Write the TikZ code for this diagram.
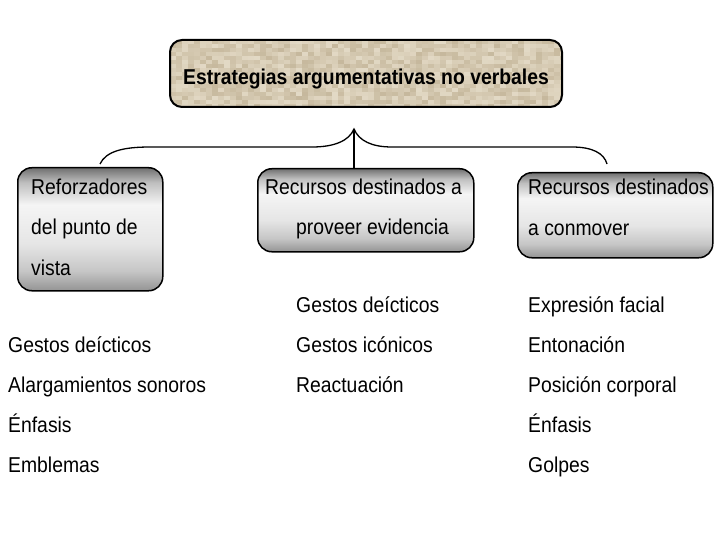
\documentclass[tikz,border=0pt]{standalone}
\usepackage{fontspec}
\setmainfont{Liberation Sans}[FakeStretch=0.9]
\usetikzlibrary{positioning, calc}
\definecolor{sanddark}{RGB}{172,154,120}
\definecolor{sandlight}{RGB}{236,228,210}
\definecolor{barshade}{RGB}{112,112,112}
\pgfdeclareverticalshading{barband}{100bp}{color(0bp)=(barshade!80!white); color(25bp)=(barshade!75!white);
  color(33bp)=(barshade!40!white); color(44bp)=(white!90!black); color(60bp)=(white!96!black);
  color(69bp)=(barshade!45!white); color(75bp)=(barshade); color(100bp)=(barshade)}
\tikzset{
  gradbox/.style={draw=black, line width=1.5pt, rounded corners=14pt, shading=barband, inner sep=0pt},
  itemtext/.style={anchor=base west, inner sep=0pt, font=\fontsize{21.5}{26}\selectfont},
}

\begin{document}
\begin{tikzpicture}[x=1pt, y=-1pt]
    \useasboundingbox (0,0) rectangle (720,540);
    % sand texture of the title box
    \begin{scope}
        \clip[rounded corners=12pt] (170,40) rectangle (562,107);
        \pgfmathsetseed{11}
        \foreach \i in {0,...,65} {
            \foreach \j in {0,...,16} {
                \pgfmathtruncatemacro{\m}{15+45*rnd}
                \fill[sanddark!\m!sandlight] (170+6*\i,40+4*\j) rectangle ++(6,4);
            }
        }
    \end{scope}
    \node[draw=black, line width=2pt, rounded corners=12pt, minimum width=392pt,
          minimum height=67pt, inner sep=0pt, text height=23pt, text depth=0pt,
          font=\bfseries\fontsize{21.5}{26}\selectfont] (titulo) at (366,73.5)
          {Estrategias argumentativas no verbales};

    % the three categories
    \node[gradbox, minimum width=145pt, minimum height=123pt, anchor=north west] (reforz) at (17,167) {};
    \node[gradbox, minimum width=216pt, minimum height=83pt, anchor=north west] (evid) at (257,168) {};
    \node[gradbox, minimum width=195pt, minimum height=85pt, anchor=north west] (conmov) at (517,172) {};

    \node[itemtext] (reforzA) at ([shift={(14,28)}]reforz.north west) {Reforzadores};
    \node[itemtext] (reforzB) at ([shift={(14,68)}]reforz.north west) {del punto de};
    \node[itemtext] (reforzC) at ([shift={(14,108)}]reforz.north west) {vista};
    \node[itemtext] (evidA) at ([shift={(8,27)}]evid.north west) {Recursos destinados a};
    \node[itemtext] (evidB) at ([shift={(39,67)}]evid.north west) {proveer evidencia};
    \node[itemtext] (conmovA) at ([shift={(11,23)}]conmov.north west) {Recursos destinados};
    \node[itemtext] (conmovB) at ([shift={(11,64)}]conmov.north west) {a conmover};

    % brace
    \coordinate (apex) at (354,129);
    \draw[line width=1.3pt] (100,164) .. controls (106,151) and (124,147) .. (150,147) -- (312,147)
        .. controls (334,147) and (349,141) .. (apex)
        .. controls (359,141) and (372,147) .. (392,147) -- (572,147)
        .. controls (592,147) and (604,153) .. (607,164);
    \draw[line width=1.3pt] (apex) -- (apex |- evid.north);

    % lists
    \foreach \txt [count=\k] in {Gestos deícticos, Alargamientos sonoros, Énfasis, Emblemas}
        \node[itemtext] (izq\k) at (8,312+40*\k) {\txt};
    \foreach \txt [count=\k] in {Gestos deícticos, Gestos icónicos, Reactuación}
        \node[itemtext] (cen\k) at (296,272+40*\k) {\txt};
    \foreach \txt [count=\k] in {Expresión facial, Entonación, Posición corporal, Énfasis, Golpes}
        \node[itemtext] (der\k) at (528,272+40*\k) {\txt};
\end{tikzpicture}
\end{document}
